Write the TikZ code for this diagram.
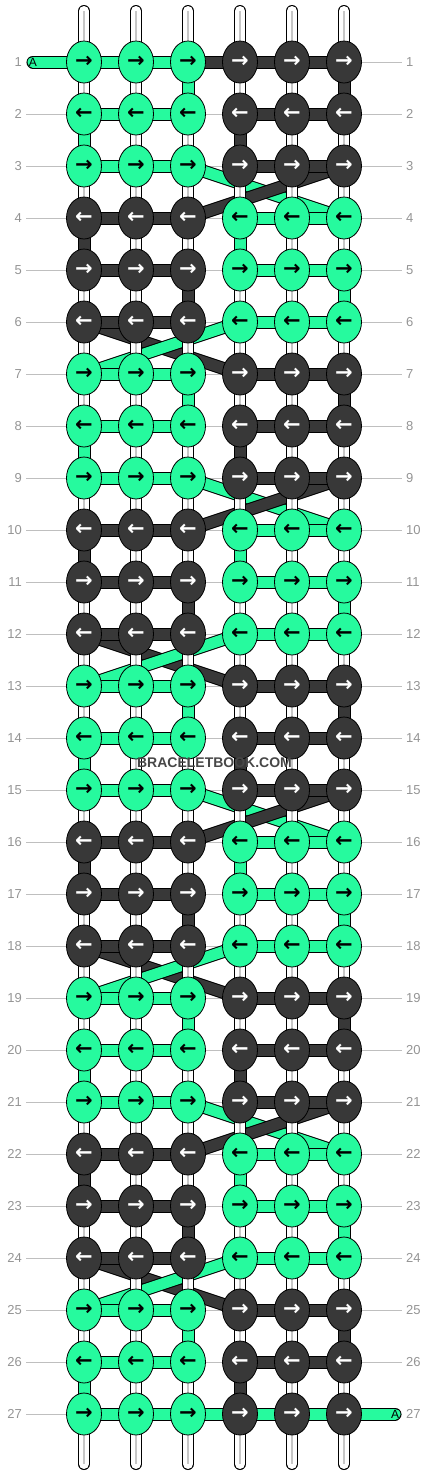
\documentclass[tikz,border=0pt]{standalone}
\usepackage{fontspec}
\setmainfont{Liberation Sans}
\newfontfamily\arrowfont{DejaVu Sans}
\usepackage{tikz}
\usetikzlibrary{shapes.geometric}
\pgfdeclarelayer{background}
\pgfsetlayers{background,main}
\definecolor{mint}{RGB}{38,250,158}
\definecolor{coal}{RGB}{56,56,56}

\begin{document}
\begin{tikzpicture}[x=1pt, y=-1pt,
			knot/.style={ellipse, draw=black, line width=0.8pt, minimum width=35pt, minimum height=42pt, inner sep=0pt, font=\arrowfont\bfseries\fontsize{21}{21}\selectfont},
			thread/.style={line width=1pt, draw=black, double=#1, double distance=11pt},
			warp/.style={line width=1pt, draw=black, double=white, double distance=10pt, line cap=round},
			warpcore/.style={line width=1.5pt, color=black!22},
			rowlabel/.style={font=\fontsize{13}{13}\selectfont, text=black!42, inner xsep=4pt},
			tag/.style={font=\fontsize{12}{12}\selectfont, inner sep=0pt},
			]
			\useasboundingbox (0,0) rectangle (428,1476);
			%Nodes
				% knots, 27 rows of 6
				\foreach \r in {1,...,27} {
					\pgfmathtruncatemacro{\phase}{mod(\r-1,6)}
					\pgfmathtruncatemacro{\odd}{mod(\r,2)}
					\foreach \c in {1,...,6} {
						\pgfmathtruncatemacro{\ismint}{(\phase<3)==(\c<4)}
						\ifnum\ismint=1 \def\kfill{mint}\def\kink{black}\else\def\kfill{coal}\def\kink{white}\fi
						\ifnum\odd=1 \def\ktext{→}\else\def\ktext{←}\fi
						\node[knot, fill=\kfill, text=\kink] (k\r-\c) at ({84+52*(\c-1)}, {62+52*(\r-1)}) {\ktext};
					}
				}
				% row numbers
				\foreach \r in {1,...,27} {
					\node[rowlabel, anchor=east] (labL\r) at (26, {62+52*(\r-1)}) {\r};
					\node[rowlabel, anchor=west] (labR\r) at (402, {62+52*(\r-1)}) {\r};
				}
				% ends of the warp strings
				\foreach \c in {1,...,6} {
					\coordinate (top\c) at ({84+52*(\c-1)}, 11);
					\coordinate (bot\c) at ({84+52*(\c-1)}, 1464);
				}
				% string tags
				\node[tag] (tagA) at (33,62) {A};
				\node[tag] (tagZ) at (395,1414) {A};
				% watermark
				\node[font=\bfseries\fontsize{14}{14}\selectfont, text=black!72] (mark) at (214.5,763) {BRACELETBOOK.COM};

			%Lines
			\begin{pgfonlayer}{background}
				% row guides
				\foreach \r in {1,...,27}
					\draw[black!25] (labL\r.east) -- (labR\r.west);
				% colours swap sides
				\foreach \r/\a/\b/\one/\two in {3/3/6/mint/coal, 6/1/4/coal/mint, 9/3/6/mint/coal, 12/1/4/coal/mint, 15/3/6/mint/coal, 18/1/4/coal/mint, 21/3/6/mint/coal, 24/1/4/coal/mint} {
					\pgfmathtruncatemacro{\n}{\r+1}
					\draw[thread=\one] (k\r-\a.center) -- (k\n-\b.center);
					\draw[thread=\two] (k\r-\b.center) -- (k\n-\a.center);
				}
				% warp strings
				\foreach \c in {1,...,6} {
					\draw[warp] (top\c) -- (bot\c);
					\draw[warpcore] (top\c) -- (bot\c);
				}
				% rows and turns
				\foreach \r in {1,...,26} {
					\pgfmathtruncatemacro{\n}{\r+1}
					\pgfmathtruncatemacro{\swap}{mod(\r,3)==0}
					\pgfmathtruncatemacro{\lc}{mod(\r,2)==1 ? 3 : 1}
					\pgfmathtruncatemacro{\rc}{\lc+3}
					\pgfmathtruncatemacro{\phase}{mod(\r-1,6)}
					\ifnum\phase<3 \def\lcol{mint}\def\rcol{coal}\else\def\lcol{coal}\def\rcol{mint}\fi
					\draw[thread=\lcol] (k\r-1.center) -- (k\r-2.center) -- (k\r-3.center);
					\draw[thread=\rcol] (k\r-4.center) -- (k\r-5.center) -- (k\r-6.center);
					\ifnum\swap=0
						\draw[thread=\lcol] (k\r-\lc.center) -- (k\n-\lc.center);
						\draw[thread=\rcol] (k\r-\rc.center) -- (k\n-\rc.center);
					\fi
				}
				% start and end of the strings
				\draw[thread=mint, line cap=round] (tagA.center) -- (k1-1.center);
				\draw[thread=coal] (k1-3.center) -- (k1-4.center);
				\draw[thread=mint] (k27-1.center) -- (k27-2.center) -- (k27-3.center) -- (k27-4.center) -- (k27-5.center) -- (k27-6.center);
				\draw[thread=mint, line cap=round] (k27-6.center) -- (tagZ.center);
			\end{pgfonlayer}
\end{tikzpicture}
\end{document}
